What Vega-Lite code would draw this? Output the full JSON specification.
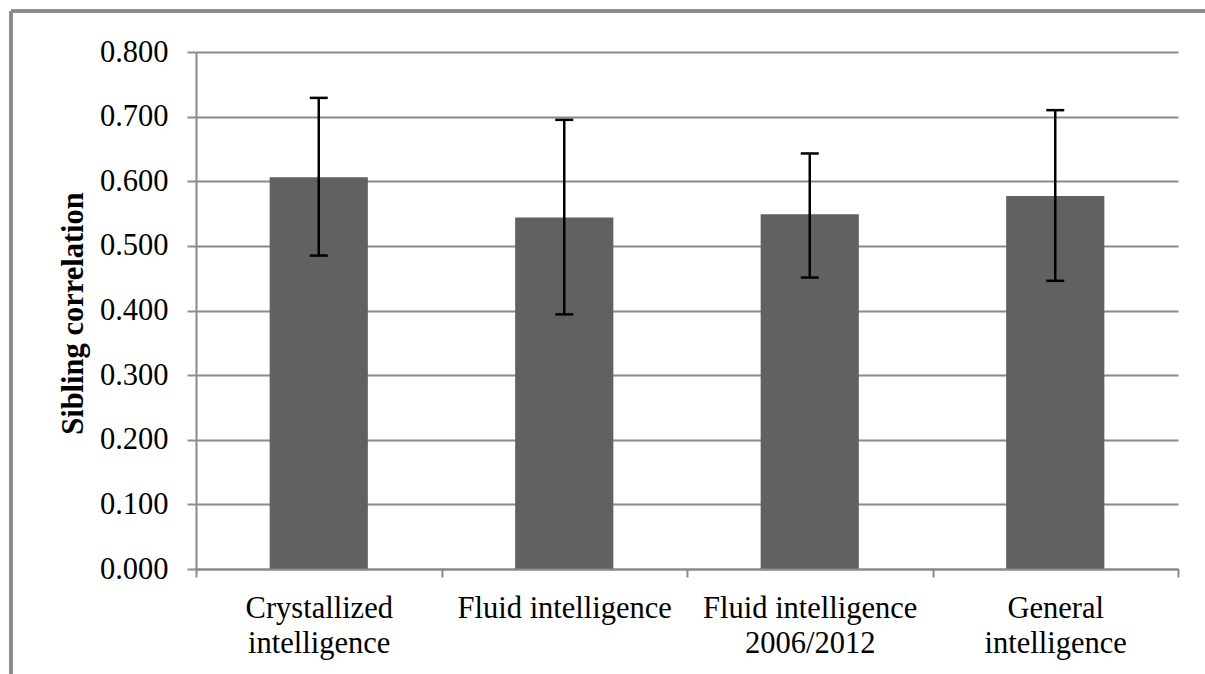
{
  "$schema": "https://vega.github.io/schema/vega-lite/v6.json",
  "width": 982,
  "height": 517,
  "autosize": {"type": "none"},
  "padding": {"left": 196, "top": 52, "right": 27, "bottom": 105},
  "background": "white",
  "config": {"view": {"stroke": null}, "font": "Liberation Serif"},
  "data": {
    "values": [
      {"category": "Crystallized intelligence", "value": 0.606, "lo": 0.485, "hi": 0.729},
      {"category": "Fluid intelligence", "value": 0.544, "lo": 0.394, "hi": 0.695},
      {"category": "Fluid intelligence 2006/2012", "value": 0.549, "lo": 0.451, "hi": 0.643},
      {"category": "General intelligence", "value": 0.577, "lo": 0.446, "hi": 0.710}
    ]
  },
  "layer": [
    {
      "layer": [
        {
          "mark": {"type": "bar", "color": "#616161", "width": {"band": 0.4}},
          "encoding": {
            "x": {
              "field": "category",
              "type": "nominal",
              "sort": null,
              "scale": {"paddingInner": 0, "paddingOuter": 0},
              "axis": {
                "title": null,
                "labelAngle": 0,
                "labelExpr": "datum.value == 'Crystallized intelligence' ? ['Crystallized', 'intelligence'] : datum.value == 'Fluid intelligence 2006/2012' ? ['Fluid intelligence', '2006/2012'] : datum.value == 'General intelligence' ? ['General', 'intelligence'] : datum.value",
                "tickBand": "extent",
                "tickColor": "#8a8a8a",
                "tickWidth": 2,
                "tickSize": 8,
                "domainColor": "#8a8a8a",
                "domainWidth": 2,
                "labelPadding": 16,
                "labelLineHeight": 35,
                "labelBaseline": "top",
                "labelFont": "Liberation Serif",
                "labelFontSize": 30.5,
                "labelColor": "black",
                "labelLimit": 0,
                "grid": false,
                "zindex": 1
              }
            },
            "y": {
              "field": "value",
              "type": "quantitative",
              "scale": {"domain": [0, 0.8], "nice": false},
              "axis": {
                "title": "Sibling correlation",
                "values": [0, 0.1, 0.2, 0.3, 0.4, 0.5, 0.6, 0.7, 0.8],
                "format": ".3f",
                "grid": true,
                "gridColor": "#8a8a8a",
                "gridWidth": 2,
                "domainColor": "#8a8a8a",
                "domainWidth": 2,
                "tickColor": "#8a8a8a",
                "tickWidth": 2,
                "tickSize": 9,
                "labelFont": "Liberation Serif",
                "labelFontSize": 30.5,
                "labelColor": "black",
                "labelPadding": 19,
                "titleFont": "Liberation Serif",
                "titleFontSize": 30.5,
                "titleFontWeight": "bold",
                "titleColor": "black",
                "titleAngle": -90,
                "titleAlign": "center",
                "titleBaseline": "alphabetic",
                "titleX": -114,
                "titleY": 261
              }
            }
          }
        },
        {
          "mark": {"type": "rule", "color": "black", "strokeWidth": 2.5},
          "encoding": {
            "x": {"field": "category", "type": "nominal", "sort": null},
            "y": {"field": "lo", "type": "quantitative"},
            "y2": {"field": "hi"}
          }
        },
        {
          "mark": {"type": "tick", "color": "black", "thickness": 2.5, "size": 18, "opacity": 1},
          "encoding": {
            "x": {"field": "category", "type": "nominal", "sort": null},
            "y": {"field": "lo", "type": "quantitative"}
          }
        },
        {
          "mark": {"type": "tick", "color": "black", "thickness": 2.5, "size": 18, "opacity": 1},
          "encoding": {
            "x": {"field": "category", "type": "nominal", "sort": null},
            "y": {"field": "hi", "type": "quantitative"}
          }
        }
      ]
    },
    {
      "layer": [
        {
          "mark": {"type": "rule", "color": "#898989", "strokeWidth": 3},
          "encoding": {
            "x": {"datum": -0.18839, "type": "quantitative", "scale": {"domain": [0, 1], "nice": false, "zero": false}, "axis": null},
            "x2": {"datum": 1.0275},
            "y": {"datum": 1.0793, "type": "quantitative", "scale": {"domain": [0, 1], "nice": false, "zero": false}, "axis": null}
          }
        },
        {
          "mark": {"type": "rule", "color": "#898989", "strokeWidth": 3},
          "encoding": {
            "x": {"datum": -0.18839, "type": "quantitative", "scale": {"domain": [0, 1], "nice": false, "zero": false}, "axis": null},
            "y": {"datum": 1.0793, "type": "quantitative", "scale": {"domain": [0, 1], "nice": false, "zero": false}, "axis": null},
            "y2": {"datum": -0.2031}
          }
        }
      ]
    }
  ],
  "resolve": {"scale": {"x": "independent", "y": "independent"}, "axis": {"x": "independent", "y": "independent"}}
}
